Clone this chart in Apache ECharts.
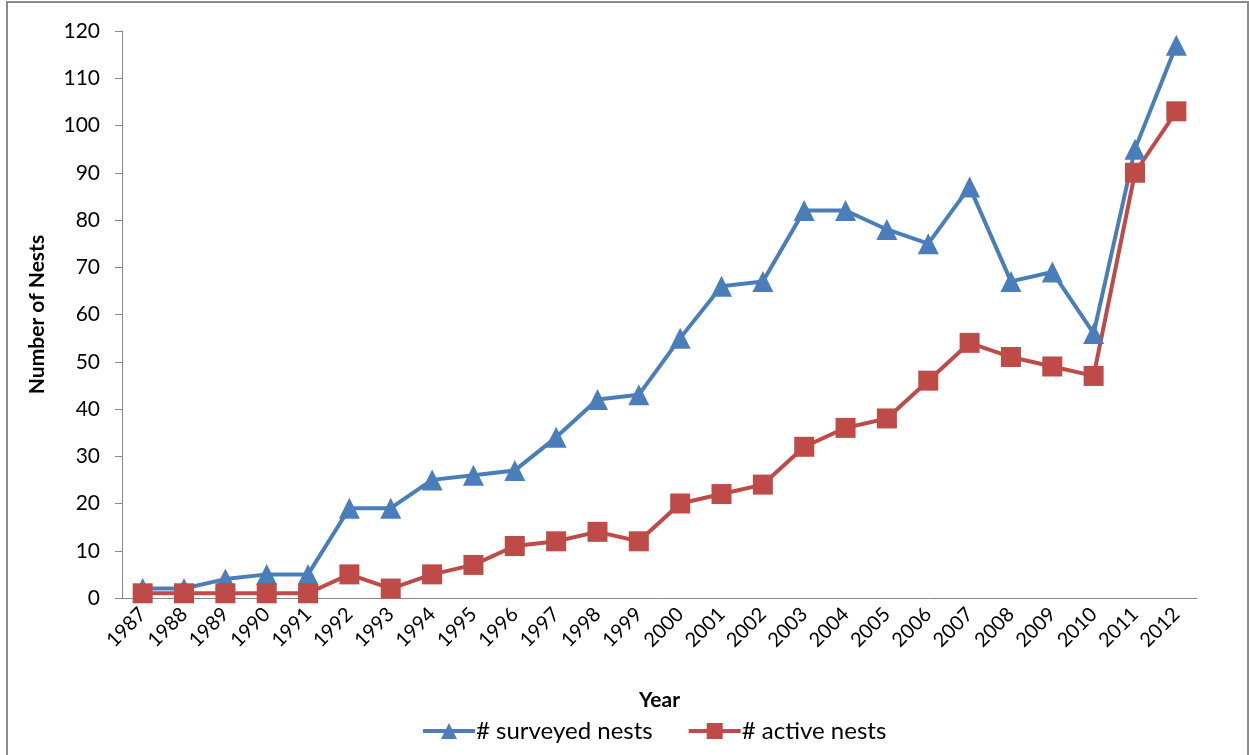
<!DOCTYPE html>
<html>
<head>
<meta charset="utf-8">
<script src="https://cdn.jsdelivr.net/npm/echarts@6/dist/echarts.min.js"></script>
<style>
  html, body { margin: 0; padding: 0; background: #fff; }
  #main { width: 1249px; height: 755px; }
</style>
</head>
<body>
<div id="main"></div>
<script>
// 数据
var years = ['1987','1988','1989','1990','1991','1992','1993','1994','1995','1996','1997','1998','1999',
  '2000','2001','2002','2003','2004','2005','2006','2007','2008','2009','2010','2011','2012'];
var surveyed = [2, 2, 4, 5, 5, 19, 19, 25, 26, 27, 34, 42, 43, 55, 66, 67, 82, 82, 78, 75, 87, 67, 69, 56, 95, 117];
var active = [1, 1, 1, 1, 1, 5, 2, 5, 7, 11, 12, 14, 12, 20, 22, 24, 32, 36, 38, 46, 54, 51, 49, 47, 90, 103];
var yTicks = [0, 10, 20, 30, 40, 50, 60, 70, 80, 90, 100, 110, 120];

var font = 'Lato, "Open Sans", sans-serif';
var myChart = echarts.init(document.getElementById('main'));

myChart.setOption({
  backgroundColor: '#fff',
  animation: false,
  textStyle: { fontFamily: font },
  //外框
  graphic: [{
    type: 'rect',
    shape: { x: 7, y: 2, width: 1241, height: 760 },
    style: { fill: 'none', stroke: '#8c8c8c', lineWidth: 2 },
    silent: true
  }],
  grid: { left: 122, right: 52, top: 31, bottom: 157 },
  legend: {
    bottom: 7,
    left: 416,
    itemGap: 34,
    itemWidth: 52,
    itemHeight: 20,
    lineStyle: { width: 4 },
    textStyle: { fontSize: 24, color: '#000', fontFamily: font, padding: [0, 0, 0, -4] },
    data: ['# surveyed nests', '# active nests']
  },
  xAxis: {
    type: 'category',
    data: years,
    name: 'Year',
    nameLocation: 'middle',
    nameGap: 92,
    nameTextStyle: { fontSize: 21, fontWeight: 'bold', color: '#000' },
    axisLine: { lineStyle: { color: '#888', width: 1 } },
    axisTick: { show: false },
    axisLabel: { rotate: 45, fontSize: 20, color: '#000', margin: 13 }
  },
  yAxis: {
    type: 'value',
    min: yTicks[0],
    max: yTicks[yTicks.length - 1],
    interval: 10,
    name: 'Number of Nests',
    nameLocation: 'middle',
    nameGap: 74,
    nameTextStyle: { fontSize: 21, fontWeight: 'bold', color: '#000' },
    axisLine: { show: true, lineStyle: { color: '#888', width: 1 } },
    axisTick: { show: true, length: 7, lineStyle: { color: '#888' } },
    axisLabel: { fontSize: 21, color: '#000', margin: 22 },
    splitLine: { show: false }
  },
  series: [
    {
      name: '# surveyed nests',
      type: 'line',
      data: surveyed,
      symbol: 'triangle',
      symbolSize: 21,
      itemStyle: { color: '#4a7ebb' },
      lineStyle: { color: '#4a7ebb', width: 4 }
    },
    {
      name: '# active nests',
      type: 'line',
      data: active,
      symbol: 'rect',
      symbolSize: 20,
      itemStyle: { color: '#be4b48' },
      lineStyle: { color: '#be4b48', width: 4 }
    }
  ]
});
</script>
</body>
</html>
